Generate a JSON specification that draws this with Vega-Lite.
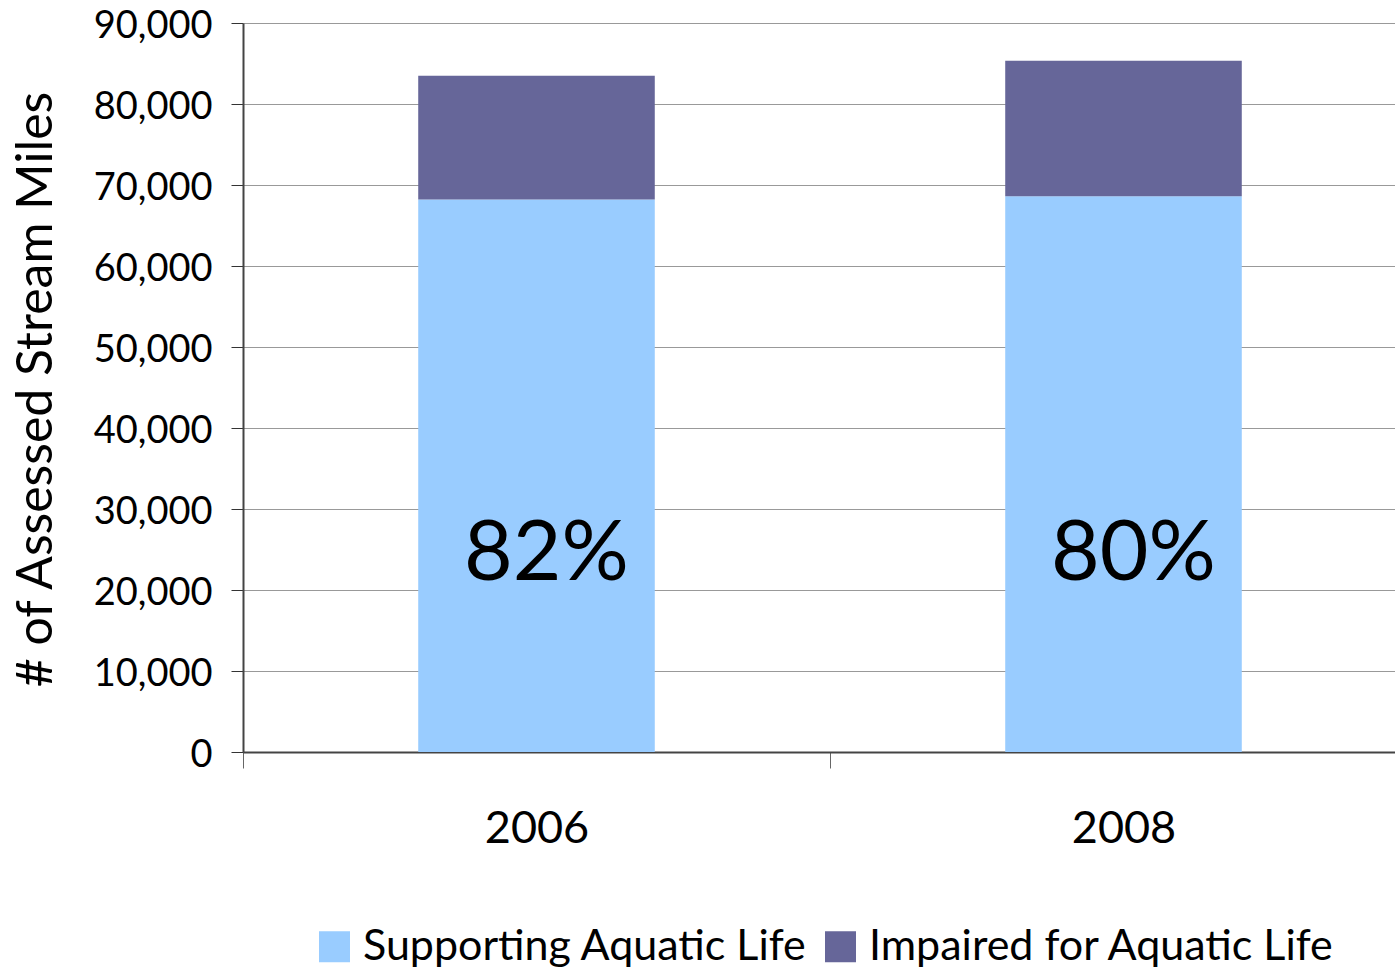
{
  "$schema": "https://vega.github.io/schema/vega-lite/v6.json",
  "autosize": {"type": "none"},
  "padding": {"left": 243, "top": 23, "right": 0, "bottom": 219},
  "width": 1174,
  "height": 729,
  "background": "white",
  "config": {"font": "Lato", "view": {"stroke": null}},
  "data": {
    "values": [
      {"year": "2006", "status": "Supporting Aquatic Life", "miles": 68200, "pct": "82%"},
      {"year": "2006", "status": "Impaired for Aquatic Life", "miles": 15300, "pct": ""},
      {"year": "2008", "status": "Supporting Aquatic Life", "miles": 68600, "pct": "80%"},
      {"year": "2008", "status": "Impaired for Aquatic Life", "miles": 16750, "pct": ""}
    ]
  },
  "layer": [
    {
      "mark": {"type": "bar", "width": {"band": 0.403}},
      "encoding": {
        "x": {
          "field": "year", "type": "nominal",
          "scale": {"paddingInner": 0, "paddingOuter": 0},
          "axis": {
            "title": null, "labelAngle": 0, "labelFontSize": 45, "labelColor": "black",
            "labelPadding": 38, "tickSize": 16, "tickBand": "extent", "tickColor": "#666",
            "domainColor": "#444", "domainWidth": 2, "grid": false
          }
        },
        "y": {
          "field": "miles", "type": "quantitative", "stack": "zero",
          "scale": {"domain": [0, 90000]},
          "axis": {
            "title": "# of Assessed Stream Miles", "titleFontSize": 50, "titleFontWeight": "normal",
            "titleColor": "black", "titleAngle": -90, "titleX": -207, "titleY": 366,
            "titleAlign": "center", "titleBaseline": "middle",
            "values": [0, 10000, 20000, 30000, 40000, 50000, 60000, 70000, 80000, 90000],
            "format": ",.0f", "labelFontSize": 38, "labelColor": "black", "labelPadding": 19,
            "labelOffset": 3,
            "tickSize": 12, "tickColor": "#333", "domainColor": "#444", "domainWidth": 2,
            "grid": true, "gridColor": "#999"
          }
        },
        "color": {
          "field": "status", "type": "nominal",
          "scale": {"domain": ["Supporting Aquatic Life", "Impaired for Aquatic Life"], "range": ["#99CCFF", "#666699"]},
          "legend": {
            "orient": "none", "legendX": 70, "legendY": 902, "direction": "horizontal",
            "title": null, "symbolType": "square", "symbolSize": 961, "symbolStrokeWidth": 0,
            "symbolOpacity": 1, "labelFontSize": 43, "labelColor": "black", "labelOffset": 7,
            "columnPadding": 11, "padding": 0, "labelLimit": 0
          }
        },
        "order": {"field": "status", "sort": "descending"}
      }
    },
    {
      "transform": [{"filter": "datum.pct != ''"}],
      "mark": {"type": "text", "fontSize": 84, "dx": 10, "baseline": "middle", "color": "black"},
      "encoding": {
        "x": {"field": "year", "type": "nominal"},
        "y": {"datum": 24300},
        "text": {"field": "pct"}
      }
    }
  ]
}
